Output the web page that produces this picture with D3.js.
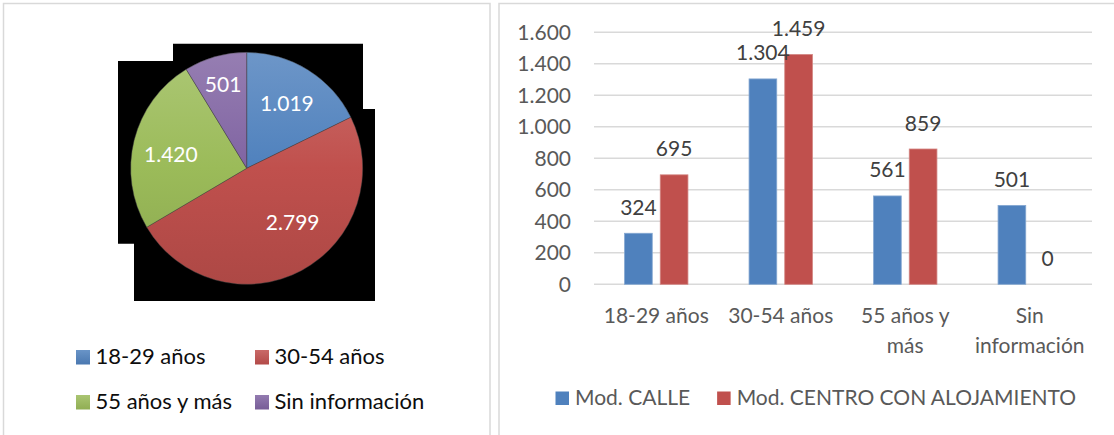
<!DOCTYPE html>
<html>
<head>
<meta charset="utf-8">
<script src="https://cdn.jsdelivr.net/npm/d3@7"></script>
<style>
  html, body { margin: 0; padding: 0; background: #ffffff; }
  svg { display: block; font-family: Lato, "Open Sans", sans-serif; }
</style>
</head>
<body>
<svg id="chart" width="1114" height="435"></svg>
<script>
// ---------------- DATA ----------------
const pieCategories = ["18-29 años", "30-54 años", "55 años y más", "Sin información"];
const pieValues = [1019, 2799, 1420, 501];

const barCategories = ["18-29 años", "30-54 años", "55 años y más", "Sin información"];
const barCategoryLines = [["18-29 años"], ["30-54 años"], ["55 años y", "más"], ["Sin", "información"]];
const barSeries = ["Mod. CALLE", "Mod. CENTRO CON ALOJAMIENTO"];
const calleValues = [324, 1304, 561, 501];
const centroValues = [695, 1459, 859, 0];
const yTicks = [0, 200, 400, 600, 800, 1000, 1200, 1400, 1600];

// ---------------- STYLE ----------------
const pieColors = ["#4F81BD", "#C0504D", "#9BBB59", "#8064A2"];
const barColors = ["#4F81BD", "#C0504D"];
const fontSize = 21;
const pieLegendFontSize = 22;

const es = d3.formatLocale({ decimal: ",", thousands: ".", grouping: [3], currency: ["", " €"] });
const fmt = es.format(",d");

const svg = d3.select("#chart");
const defs = svg.append("defs");

// panel frames
svg.append("rect").attr("x", 3.5).attr("y", 3.5).attr("width", 486.5).attr("height", 460)
  .attr("fill", "#fff").attr("stroke", "#D9D9D9").attr("stroke-width", 1.5);
svg.append("rect").attr("x", 499).attr("y", 3.5).attr("width", 640).attr("height", 460)
  .attr("fill", "#fff").attr("stroke", "#D9D9D9").attr("stroke-width", 1.5);

// ---------------- PIE ----------------
const cx = 246.7, cy = 168.3, R = 116;

// black backdrop artifact behind the pie
svg.append("path")
  .attr("d", "M173,43.7 H363 V109 H375 V301 H134 V243.7 H118 V61 H173 Z")
  .attr("fill", "#000");

pieColors.forEach((c, i) => {
  const g = defs.append("linearGradient").attr("id", "pgl" + i)
    .attr("gradientUnits", "userSpaceOnUse")
    .attr("x1", 0).attr("y1", -R).attr("x2", 0).attr("y2", R);
  g.append("stop").attr("offset", 0).attr("stop-color", d3.interpolateRgb(c, "#fff")(0.17));
  g.append("stop").attr("offset", 0.5).attr("stop-color", c);
  g.append("stop").attr("offset", 1).attr("stop-color", d3.color(c).darker(0.3));
  const lg = defs.append("linearGradient").attr("id", "lg" + i)
    .attr("x1", 0).attr("y1", 0).attr("x2", 0).attr("y2", 1);
  lg.append("stop").attr("offset", 0).attr("stop-color", d3.interpolateRgb(c, "#fff")(0.15));
  lg.append("stop").attr("offset", 1).attr("stop-color", d3.color(c).darker(0.2));
});

const pie = d3.pie().sort(null).value(d => d).startAngle(0).endAngle(2 * Math.PI);
const arcs = pie(pieValues);
const arc = d3.arc().innerRadius(0).outerRadius(R);
const pg = svg.append("g").attr("transform", `translate(${cx},${cy})`);
pg.selectAll("path.slice").data(arcs).join("path")
  .attr("class", "slice")
  .attr("d", arc)
  .attr("fill", (d, i) => `url(#pgl${i})`)
  .attr("stroke", "rgba(70,70,70,0.55)")
  .attr("stroke-width", 0.8);

// label placement (best-fit style): fraction along slice and radius fraction
const labelFrac = [0.5, 0.43, 0.46, 0.5];
const labelRad = [0.655, 0.61, 0.665, 0.75];
pg.selectAll("text.plabel").data(arcs).join("text")
  .attr("class", "plabel")
  .attr("x", (d, i) => { const a = d.startAngle + (d.endAngle - d.startAngle) * labelFrac[i]; return Math.sin(a) * R * labelRad[i]; })
  .attr("y", (d, i) => { const a = d.startAngle + (d.endAngle - d.startAngle) * labelFrac[i]; return -Math.cos(a) * R * labelRad[i]; })
  .attr("dy", "0.36em")
  .attr("text-anchor", "middle")
  .attr("fill", "#fff")
  .attr("font-size", fontSize)
  .text(d => fmt(d.data));

// pie legend
const pieLegCols = [76, 255], pieLegRows = [350, 395];
const pl = svg.append("g");
pieCategories.forEach((name, i) => {
  const x = pieLegCols[i % 2], y = pieLegRows[Math.floor(i / 2)];
  pl.append("rect").attr("x", x).attr("y", y).attr("width", 14).attr("height", 14.5)
    .attr("fill", `url(#lg${i})`);
  pl.append("text").attr("x", x + 19.5).attr("y", y + 14.4)
    .attr("fill", "#0D0D0D").attr("font-size", pieLegendFontSize).text(name);
});

// ---------------- BARS ----------------
const plotL = 594, plotR = 1092;
const y = d3.scaleLinear().domain([0, 1600]).range([284.3, 32.3]);
const x0 = d3.scaleBand().domain(barCategories).range([plotL, plotR]).padding(0);
const x1 = d3.scaleBand().domain(barSeries).range([0, x0.bandwidth()]).paddingInner(0.224).paddingOuter(0.856);

// gridlines
svg.append("g").selectAll("line").data(yTicks).join("line")
  .attr("x1", plotL).attr("x2", plotR)
  .attr("y1", d => y(d)).attr("y2", d => y(d))
  .attr("stroke", "#D9D9D9").attr("stroke-width", 1.5);

// y axis
const yAxis = svg.append("g").attr("transform", `translate(${plotL},0)`)
  .call(d3.axisLeft(y).tickValues(yTicks).tickFormat(fmt).tickSize(0).tickPadding(23));
yAxis.select(".domain").remove();
yAxis.selectAll("text").attr("fill", "#595959").attr("font-size", fontSize)
  .attr("font-family", "Lato, 'Open Sans', sans-serif");

// x axis
const xAxis = svg.append("g").attr("transform", `translate(0,${y(0)})`)
  .call(d3.axisBottom(x0).tickSize(0).tickPadding(24));
xAxis.select(".domain").remove();
xAxis.selectAll("text").each(function (d, i) {
  const t = d3.select(this);
  t.text(null).attr("fill", "#595959").attr("font-size", fontSize)
    .attr("font-family", "Lato, 'Open Sans', sans-serif");
  barCategoryLines[i].forEach((line, j) => {
    t.append("tspan").attr("x", 0).attr("dy", j === 0 ? "0.71em" : "29.5px").text(line);
  });
});

// bars
const seriesData = [calleValues, centroValues];
const groups = svg.append("g").selectAll("g").data(barCategories).join("g")
  .attr("transform", d => `translate(${x0(d)},0)`);
groups.selectAll("rect").data((c, ci) => barSeries.map((s, si) => ({ s, si, v: seriesData[si][ci] })))
  .join("rect")
  .attr("x", d => x1(d.s))
  .attr("width", x1.bandwidth())
  .attr("y", d => y(d.v))
  .attr("height", d => y(0) - y(d.v))
  .attr("fill", d => barColors[d.si])
  .attr("stroke", d => d.v > 0 ? d3.interpolateRgb(barColors[d.si], "#fff")(0.3) : "none")
  .attr("stroke-width", 0.8);
groups.selectAll("text").data((c, ci) => barSeries.map((s, si) => ({ s, si, v: seriesData[si][ci] })))
  .join("text")
  .attr("x", d => x1(d.s) + x1.bandwidth() / 2)
  .attr("y", d => y(d.v) - 18.5)
  .attr("text-anchor", "middle")
  .attr("fill", "#404040")
  .attr("font-size", fontSize)
  .text(d => fmt(d.v));

// bar legend
const bl = svg.append("g");
let lx = 555.5;
const ly = 391.5;
barSeries.forEach((name, i) => {
  bl.append("rect").attr("x", lx).attr("y", ly).attr("width", 13.5).attr("height", 13.5).attr("fill", barColors[i]);
  const t = bl.append("text").attr("x", lx + 19.5).attr("y", ly + 13.5)
    .attr("fill", "#595959").attr("font-size", fontSize).text(name);
  lx += 19.5 + t.node().getComputedTextLength() + 27;
});
</script>
</body>
</html>
